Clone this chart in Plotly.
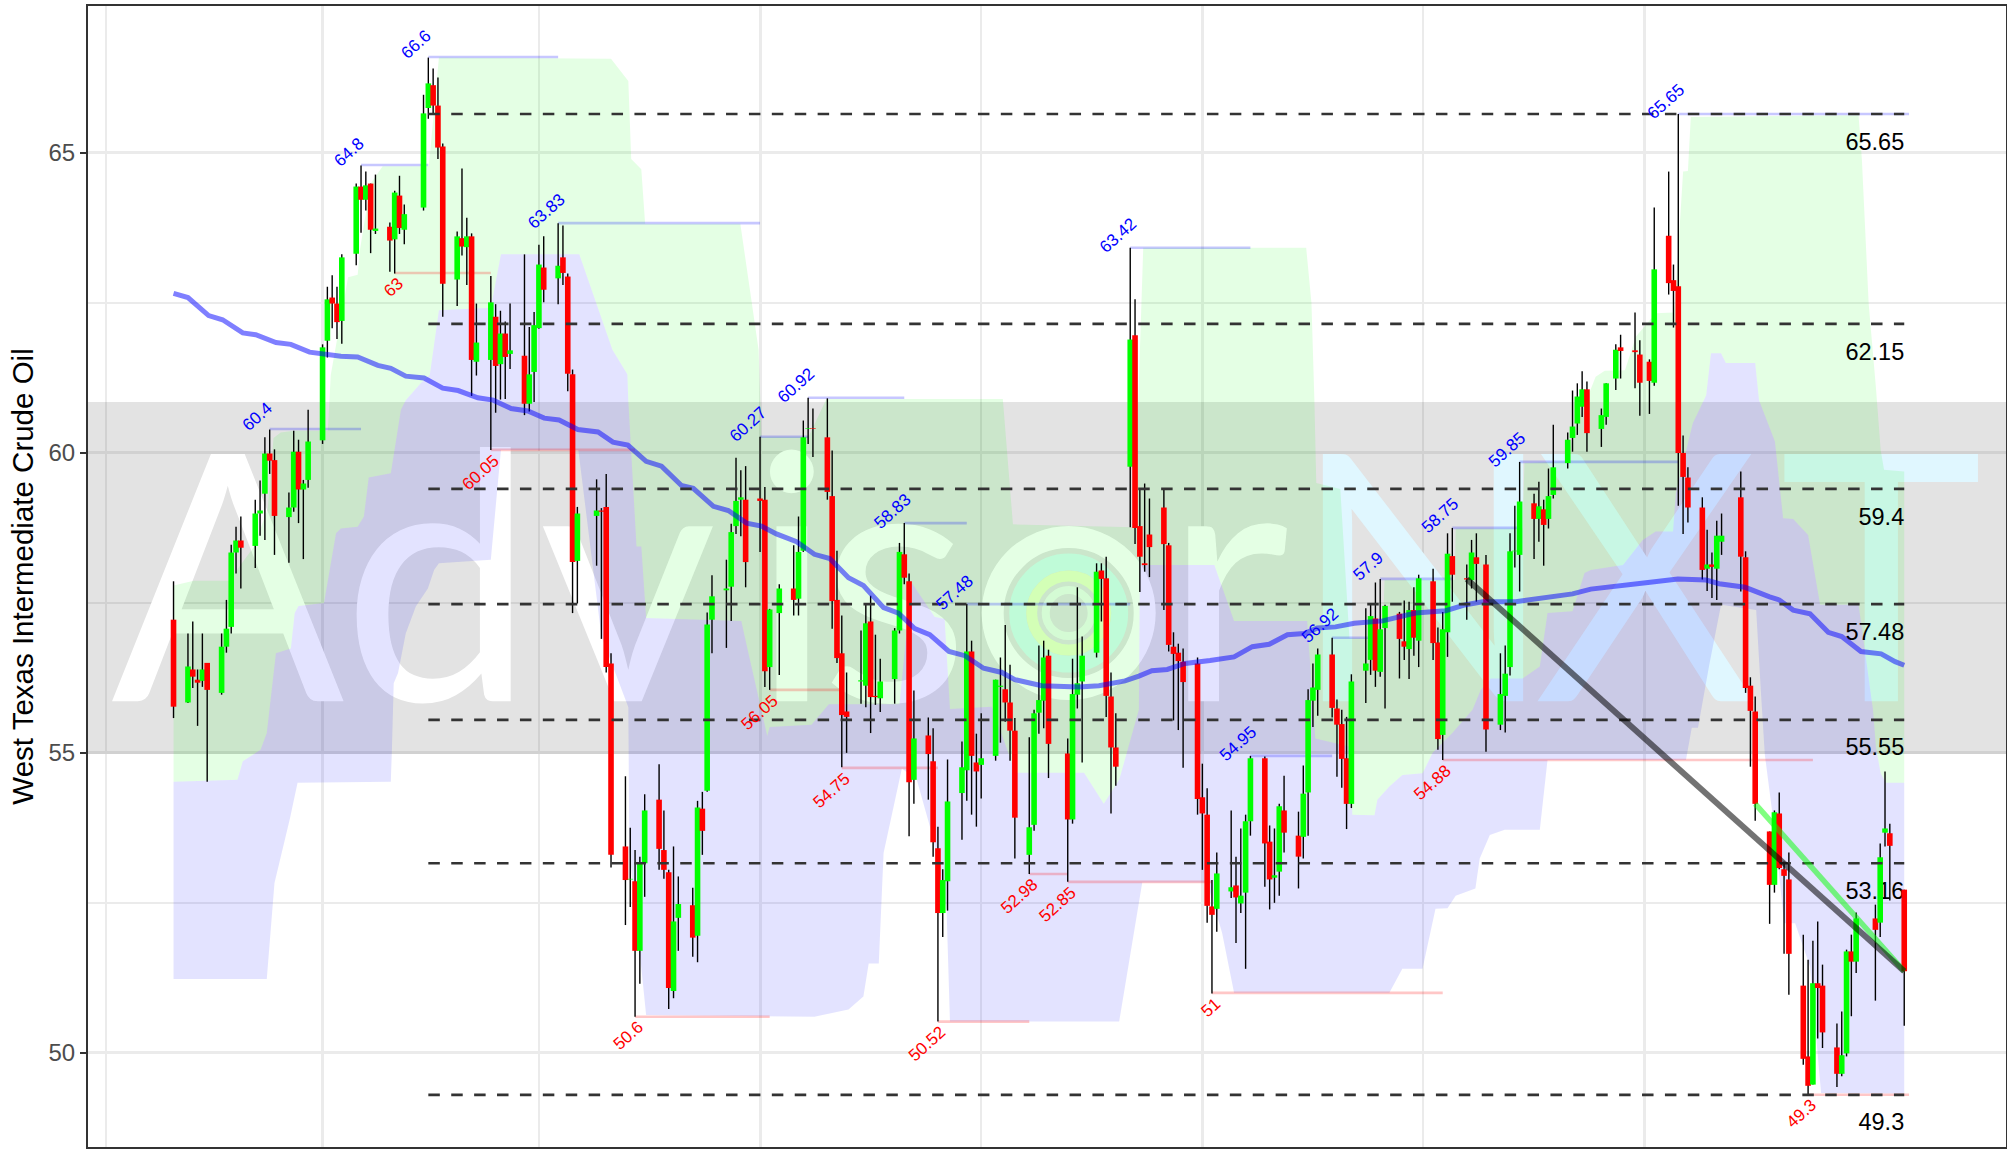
import pandas as pd
import plotly.graph_objects as go

# ---------- daily OHLC (2019-03-01 .. 2020-02-24) ----------
closed_days = ["2019-04-19", "2019-05-27", "2019-07-04", "2019-09-02", "2019-11-28",
               "2019-12-25", "2020-01-01", "2020-01-20", "2020-02-17"]
trade_days = pd.bdate_range("2019-03-01", "2020-02-24").difference(pd.to_datetime(closed_days))

open_px = [
 57.22,55.84,56.39,56.22,56.2,56.5,56.0,56.77,57.1,58.34,58.54,58.45,58.99,59.32,59.99,59.88,58.93,59.09,60.02,59.39,59.55,
 60.21,61.87,62.59,62.49,62.2,63.32,64.44,64.22,64.49,63.70,63.77,63.56,64.29,63.72,64.09,65.75,66.13,65.79,65.11,62.89,63.58,
 63.43,63.61,61.52,61.55,62.27,61.48,61.99,61.65,61.62,60.82,61.35,62.08,63.09,62.91,63.26,62.94,61.31,58.2,58.95,59.04,59.1,56.49,
 53.44,52.89,52.86,51.7,53.16,54.22,53.38,53.01,51.03,52.25,52.46,51.95,54.07,54.37,57.22,57.71,57.77,58.78,59.22,59.22,
 59.24,59.22,56.43,57.33,57.74,57.57,58.37,60.4,60.41,60.26,59.28,57.55,56.66,55.69,56.19,56.12,57.19,55.95,55.91,56.23,57.04,58.31,
 57.86,54.55,55.29,54.86,53.41,52.33,52.86,54.33,54.71,56.69,54.84,54.8,54.95,56.1,56.06,55.84,55.37,53.3,53.8,55.67,55.87,56.62,
 54.99,53.89,55.97,56.19,56.67,58.04,57.91,55.94,55.09,59.77,61.96,58.78,58.16,58.64,59.09,58.46,56.77,56.67,56.52,56.49,
 54.26,53.97,52.44,52.4,52.69,52.79,52.49,52.67,53.86,54.91,53.52,52.92,53.02,54.04,53.62,53.6,54.34,55.87,56.05,56.64,55.74,55.48,54.91,
 54.15,56.37,56.55,57.24,56.35,57.08,57.32,56.86,56.73,57.38,56.87,57.86,56.84,55.3,57.01,58.28,57.91,57.88,58.26,58.14,
 55.47,55.95,56.43,58.36,58.3,59.16,58.9,59.06,58.9,59.3,59.83,60.25,60.49,60.77,61.06,60.4,60.6,61.24,61.76,61.71,61.64,
 61.52,61.17,63.62,62.88,62.78,60.0,59.59,59.09,58.07,58.14,58.07,58.52,59.26,58.26,56.12,55.69,53.69,52.8,53.99,53.06,52.89,
 51.12,49.94,49.47,51.16,51.12,50.09,49.65,49.99,51.69,51.52,52.24,52.17,53.67,53.66,52.72]
high_px = [
 57.86,56.99,57.19,56.39,56.99,56.5,56.99,57.55,58.47,58.77,58.94,59.22,59.54,60.26,60.39,60.06,59.34,60.37,60.22,59.55,60.72,
 61.81,62.77,62.96,62.77,63.31,64.49,64.79,64.69,64.49,64.64,63.84,64.37,64.62,64.14,65.97,66.59,66.41,66.26,65.16,63.69,64.74,
 63.92,63.66,62.49,62.95,62.48,62.37,62.19,62.49,63.31,62.1,62.35,63.47,63.61,63.83,63.79,62.99,61.39,59.1,59.56,59.08,59.65,56.66,
 54.61,53.75,53.38,53.27,54.31,54.81,54.04,53.05,53.44,52.94,52.75,54.2,54.35,57.34,57.96,58.22,58.82,59.92,59.71,59.78,
 60.27,59.43,57.4,57.81,58.46,58.94,60.54,60.92,60.74,60.91,60.04,58.37,57.29,56.34,57.04,57.49,57.62,56.97,56.57,57.08,58.5,58.83,
 57.99,56.04,55.59,55.41,53.77,53.06,54.89,55.19,57.48,56.87,55.32,55.66,56.22,56.59,57.13,56.47,55.58,55.26,55.72,56.79,56.87,56.72,
 55.24,56.57,57.76,56.94,58.16,58.16,58.27,56.34,55.66,63.42,62.56,59.4,59.49,59.24,59.4,58.5,57.01,56.82,56.74,56.59,
 54.82,54.41,52.88,53.34,54.04,53.27,53.74,53.97,54.95,54.94,53.79,53.74,54.15,54.62,54.02,54.79,56.06,56.49,56.74,56.92,55.89,55.72,55.6,
 56.31,57.41,57.49,57.84,57.9,57.47,57.35,57.54,57.52,57.76,57.97,58.07,57.09,57.35,58.66,58.75,58.14,58.55,58.66,58.3,
 56.66,56.79,58.66,59.12,59.85,59.32,59.52,59.22,59.74,60.47,60.34,61.04,61.16,61.36,61.19,60.74,61.16,61.81,61.97,62.34,61.88,
 61.56,64.09,64.69,63.14,65.65,60.29,59.76,59.26,58.72,58.34,58.87,58.99,59.69,58.36,56.26,55.94,53.69,54.04,54.34,53.19,53.34,
 51.97,51.55,51.87,52.19,51.47,50.49,50.69,51.72,51.97,52.34,52.47,53.49,54.69,53.82,52.72]
low_px = [
 55.58,55.83,56.08,55.45,56.1,54.52,55.97,56.67,56.99,57.99,57.74,58.08,58.62,58.55,59.65,58.3,58.17,59.02,58.83,58.23,59.42,
 60.15,61.59,62.08,61.9,61.82,63.13,63.67,64.04,63.33,63.65,63.02,62.99,63.65,63.48,64.04,65.57,65.64,64.9,62.27,62.45,63.29,
 62.8,60.95,61.29,60.05,60.67,60.89,60.9,61.4,60.63,60.69,60.85,62.07,62.51,62.48,62.8,61.03,57.33,57.49,58.12,56.9,56.34,53.09,
 52.13,52.43,50.6,51.15,52.6,53.05,52.9,50.73,50.91,51.7,51.6,51.51,53.3,54.35,56.66,56.75,57.2,58.65,58.61,57.76,
 58.35,56.1,56.05,56.3,57.29,57.29,58.35,60.15,59.93,59.22,57.07,56.5,54.76,55.0,55.82,55.76,55.33,55.8,55.68,55.82,56.99,57.81,
 53.61,54.15,54.22,53.27,50.52,51.93,52.37,53.55,54.2,53.97,53.77,54.24,54.87,55.17,55.52,54.87,53.24,52.98,53.7,55.32,55.41,54.58,
 52.85,53.82,55.74,54.84,56.59,57.19,55.6,53.99,54.45,58.76,58.48,57.68,58.02,57.93,57.38,56.69,55.54,55.38,54.75,53.97,
 53.05,52.17,50.99,52.02,52.58,51.83,52.33,51.4,53.62,52.77,52.39,52.5,52.62,53.34,52.74,53.24,53.62,55.43,55.62,55.59,54.6,54.42,53.73,
 54.08,55.83,56.3,56.1,56.27,55.74,56.24,56.55,56.23,56.62,56.43,56.55,55.05,54.88,56.6,57.52,57.22,57.74,57.52,55.02,
 55.38,55.34,56.29,58.09,57.69,58.23,58.52,58.12,58.74,59.24,59.74,60.02,60.3,60.6,60.02,60.1,60.47,61.05,61.24,61.08,60.62,
 60.65,61.12,62.64,62.09,59.12,58.65,58.84,57.89,57.7,57.58,57.55,58.3,57.69,56.0,54.77,53.87,52.15,52.67,53.06,51.65,50.97,
 49.8,49.3,49.47,50.24,50.08,49.43,49.61,49.94,50.61,51.33,50.87,51.93,53.44,52.54,50.45]
close_px = [
 55.77,56.44,56.27,56.17,56.39,56.05,56.77,57.07,58.34,58.54,58.42,58.99,59.04,59.99,59.87,58.95,59.09,60.02,59.39,59.49,60.19,
 61.76,62.56,62.49,62.18,63.26,64.44,64.22,64.46,63.72,63.74,63.54,64.34,63.75,63.98,65.66,66.16,65.79,65.09,62.82,63.61,63.44,
 63.61,61.55,61.84,62.51,61.45,61.99,61.6,61.71,60.82,61.31,62.13,63.14,62.72,63.12,63.0,61.32,58.18,58.99,59.04,59.02,56.43,53.3,
 52.88,52.9,51.7,53.16,54.04,53.4,53.05,51.08,52.19,52.48,51.92,54.09,53.7,57.14,57.61,57.74,58.68,59.2,59.26,58.18,
 59.2,56.36,57.39,57.74,57.55,58.35,60.26,60.41,60.4,59.35,57.53,56.58,55.63,55.6,56.21,57.16,55.93,55.93,56.19,57.04,58.35,57.92,
 54.51,55.24,54.98,53.51,52.33,52.88,54.19,54.76,56.69,54.95,54.69,54.91,56.22,56.12,55.84,55.37,53.92,53.76,55.66,55.88,56.59,55.15,
 53.89,55.98,56.16,56.62,58.02,57.9,55.95,55.09,54.77,61.89,58.75,58.27,58.13,58.43,58.48,56.8,56.65,56.53,56.18,54.23,
 53.99,52.45,52.3,52.99,52.76,52.59,52.62,53.86,54.91,53.49,52.89,52.96,54.11,53.67,53.27,54.32,55.88,56.09,56.64,55.75,55.47,54.9,54.15,
 56.19,56.49,57.28,56.37,57.06,57.45,56.9,56.77,57.38,56.92,57.91,56.83,55.23,57.06,58.32,57.97,57.89,58.34,58.15,55.39,
 55.98,56.32,58.36,58.37,59.19,58.9,59.11,58.8,59.28,59.76,60.22,60.44,60.94,61.06,60.33,60.63,61.16,61.72,61.7,61.68,61.17,
 61.2,63.06,62.83,62.7,60.0,59.6,59.09,58.05,58.14,58.1,58.62,58.62,58.27,56.08,55.7,54.15,52.8,54.01,53.08,52.95,51.65,
 49.9,49.45,51.16,51.08,50.34,49.65,49.96,51.69,51.52,52.24,52.05,53.26,53.74,53.45,51.36]

# ---------- channel edges and moving average (days since 2019-03-01, price) ----------
upper_day = [0,4.2,11.5,16.7,19.6,20.8,22.3,25,32.1,32.7,36.3,38.3,38.8,41,43.5,53.1,55.2,91,94.6,95.2,97.3,98.1,117.9,121.7,122.3,132.1,135.8,172.5,174.6,199.8,201.3,201.7,235.6,236.7,237.3,237.7,242.7,244.6,251.5,251.9,266.5,266.7,280.6,281,289.6,292,295.8,297.7,301.9,304.2,308.3,311.9,312.3,314,315,315.6,350.5,351.2,352.6,354.1,355.1,355.8,360]
upper_val = [57.79,57.87,57.87,58.43,59.07,60.25,60.34,60.37,60.37,61.3,62.93,62.97,63.4,64.49,64.78,64.78,66.59,66.57,66.2,64.9,64.73,63.82,63.82,61.72,60.27,60.27,60.9,60.9,58.81,58.76,62.43,63.42,63.42,62.5,60.9,59.5,59.4,56.91,56.91,57.88,57.88,58.74,58.74,59.83,59.86,60.49,61.27,61.37,61.38,61.94,62.33,62.34,62.5,64.69,64.7,65.6,65.63,64.88,62.49,61.1,60.05,59.72,59.69]
mid_day = [0,13.3,14.4,18.1,19.4,21.3,24.4,25.2,26,31.3,33.8,34.8,38.3,39.6,40.6,45.2,47.3,48.3,51.5,53.3,55.2,66,68.1,84.4,91.3,94.4,94.6,96.3,97.3,98.3,118.1,119.2,123.5,124,132.7,136.3,151,153.5,158.3,160.4,161.5,170.2,174.4,175,189.4,193.5,196.7,200.8,201,216.5,220.6,235.8,237.5,244.8,245.2,249.8,250.4,252.9,255.6,259.8,261.9,266,270.2,271.9,274,280.6,284.2,285.8,291,293.5,294.8,301.5,305.6,308.3,311.9,312.5,316,318.8,319.8,321.9,322.9,329,329.8,333.1,334.8,336.9,340,342.5,350.5,352,353.5,354.1,355.1,356.2,360]
mid_val = [54.52,54.55,54.86,55.05,55.33,56.66,56.74,57.33,57.45,57.5,58.66,58.74,58.77,58.94,59.59,59.66,60.72,60.88,61.17,61.3,62.38,62.42,63.31,63.31,61.72,61.31,60.86,58.44,58.44,57.25,57.2,56.8,55.28,55.43,55.47,55.81,55.81,57.84,57.27,57.23,55.73,55.77,54.83,54.67,54.67,54.15,54.55,55.72,58.13,58.13,57.2,57.2,55.24,55.1,53.97,53.96,54.22,54.44,54.63,54.66,55.0,55.33,55.72,56.05,56.24,56.24,56.44,57.33,57.36,58.0,58.05,58.13,58.55,58.69,58.69,59.33,60.49,60.96,61.66,61.66,61.5,61.5,60.88,60.19,58.91,58.9,58.63,57.47,57.47,56.6,55.72,55.1,54.66,54.5,54.5]
lower_day = [0,19.4,21,24.2,25.8,45.2,45.4,45.8,46.7,48.3,50.4,52.9,54.2,55.2,66,68.1,84.2,89,94.6,94.8,98.3,133.3,140.4,143.5,144.6,146.7,147.7,151.5,154.6,158.1,160.8,161.5,196.7,201.5,215,218.1,220.6,252.9,255.6,259.8,262.5,265,266.7,270.8,271.7,273.8,276.9,284.2,285.8,305.6,314.6,315.8,317.1,319.4,321.9,329.2,330.2,331,333.1,335,337.3,340.4,342.7,360]
lower_val = [51.23,51.23,52.83,53.9,54.5,54.52,54.99,56.16,56.33,56.99,57.44,57.74,58.05,58.16,58.22,60.05,60.05,56.95,55.76,53.38,50.63,50.6,50.72,50.94,51.49,51.49,53.33,54.74,54.55,53.55,52.38,50.52,50.52,52.84,52.84,52.0,51.0,51.0,51.4,51.4,52.4,52.41,52.62,52.74,53.24,53.63,53.72,53.72,54.88,54.88,54.88,55.42,55.42,56.45,57.47,57.38,56.0,54.97,53.66,52.16,52.16,51.44,49.33,49.32]
ma_day = [0,3,7.3,10.2,14.4,17.1,21.3,24.4,28.3,34.8,38.3,42.5,45.2,48.3,52.1,56,59.2,63.3,66.5,70.2,73.7,77.1,80.2,84.1,88.3,91.4,94.5,98.3,101.5,105.6,108.1,112.3,115.4,119.2,122.3,125.4,129.6,133.3,136.5,140.4,143.5,147.7,150.8,154.2,157.3,161.3,164.6,168.5,172.3,175,180.6,188.3,192.5,197.9,200.8,203.5,206.7,210.4,215.6,220.6,224.4,227.9,231.7,235.2,237.9,241.7,245.6,251.5,258.3,264.6,268.8,272.3,279.2,284.8,291,294.8,300,306.7,312.9,318.8,321.5,326.9,332,334,336.9,340.4,344.2,347,351,355.2,358.1,360]
ma_val = [62.66,62.59,62.29,62.22,62.0,61.97,61.84,61.81,61.68,61.61,61.6,61.46,61.41,61.28,61.25,61.08,61.04,60.92,60.88,60.74,60.7,60.58,60.55,60.39,60.35,60.18,60.13,59.86,59.78,59.46,59.41,59.11,59.04,58.83,58.78,58.65,58.52,58.31,58.24,57.92,57.79,57.42,57.33,57.07,56.97,56.69,56.62,56.41,56.34,56.22,56.12,56.1,56.12,56.2,56.28,56.37,56.39,56.49,56.54,56.6,56.77,56.81,56.97,56.99,57.08,57.1,57.16,57.2,57.33,57.37,57.47,57.52,57.52,57.58,57.65,57.73,57.77,57.84,57.9,57.88,57.82,57.76,57.6,57.55,57.38,57.32,57.01,56.94,56.69,56.65,56.52,56.46]

# ---------- swing highs / lows ----------
high_labels = ["60.4","64.8","66.6","63.83","60.27","60.92","58.83","57.48","63.42","54.95","56.92","57.9","58.75","59.85","65.65"]
high_vals = [60.4,64.8,66.6,63.83,60.27,60.92,58.83,57.48,63.42,54.95,56.92,57.9,58.75,59.85,65.65]
high_from = ["2019-03-21","2019-04-09","2019-04-23","2019-05-20","2019-07-01","2019-07-11","2019-07-31","2019-08-13","2019-09-16","2019-10-11","2019-10-28","2019-11-07","2019-11-22","2019-12-06","2020-01-08"]
high_to = ["2019-04-09","2019-04-23","2019-05-20","2019-07-01","2019-07-11","2019-07-31","2019-08-13","2019-09-16","2019-10-11","2019-10-28","2019-11-07","2019-11-22","2019-12-06","2020-01-08","2020-02-25"]
low_labels = ["63","60.05","50.6","56.05","54.75","50.52","52.98","52.85","51","54.88","49.3"]
low_vals = [63,60.05,50.6,56.05,54.75,50.52,52.98,52.85,51,54.88,49.3]
low_from = ["2019-04-16","2019-05-06","2019-06-05","2019-07-03","2019-07-18","2019-08-07","2019-08-26","2019-09-03","2019-10-03","2019-11-20","2020-02-04"]
low_to = ["2019-05-06","2019-06-05","2019-07-03","2019-07-18","2019-08-07","2019-08-26","2019-09-03","2019-10-03","2019-11-20","2020-02-05","2020-02-25"]

# ---------- levels and trend lines ----------
level_vals = [65.65,62.15,59.4,57.48,55.55,53.16,49.3]
level_text = ["65.65","62.15","59.4","57.48","55.55","53.16","49.3"]
level_from, level_to = "2019-04-23", "2020-02-24"
black_trend_x = ["2019-11-25","2020-02-24"]
black_trend_y = [57.9,51.36]
green_trend_x = ["2020-01-24","2020-02-24"]
green_trend_y = [54.15,51.36]

# ---------- axes ----------
major_dates = ["2019-04-01","2019-07-01","2019-10-01","2020-01-01"]
minor_dates = ["2019-02-15","2019-05-16","2019-08-16","2019-11-16"]
y_major = [50,55,60,65]
y_minor = [52.5,57.5,62.5]
band_low, band_high = 54.98, 60.85
x_start, x_end = "2019-02-11 05:00", "2020-03-16 04:00"

wm_letters = ["A","d","v","i","s","r","N","X","T"]
wm_days = [-13,35,76,120,134.5,206,232.5,283,334]
wm_colors = ["#ffffff"]*6 + ["#e0f7ff"]*3
wm_level = 57.3
logo_day, logo_val = 186.2, 57.33

BASE = pd.Timestamp("2019-03-01")
def to_dates(days):
    return [(BASE + pd.Timedelta(days=d)).round("s") for d in days]

fig = go.Figure()

# watermark sits under the translucent channels
for ch, d, col in zip(wm_letters, wm_days, wm_colors):
    fig.add_trace(go.Scatter(x=to_dates([d]), y=[wm_level], mode="text", text=[ch], textposition="middle right",
                             textfont=dict(family="Lato", size=345, color=col), hoverinfo="skip", showlegend=False))

# channels
def band(xa, ya, xb, yb, col):
    xs = to_dates(xa) + to_dates(xb)[::-1]
    ys = list(ya) + list(yb)[::-1]
    fig.add_trace(go.Scatter(x=xs, y=ys, mode="none", fill="toself", fillcolor=col, hoverinfo="skip", showlegend=False))
band(upper_day, upper_val, mid_day, mid_val, "rgba(0,255,0,0.105)")
band(mid_day, mid_val, lower_day, lower_val, "rgba(0,0,255,0.11)")

# level captions, under the candles
fig.add_trace(go.Scatter(x=[level_to]*len(level_vals), y=[v-0.3 for v in level_vals], mode="text", text=level_text,
                         textposition="bottom left", textfont=dict(family="Liberation Sans", size=23.5, color="black"),
                         hoverinfo="skip", showlegend=False))

# swing lines
def seg(xf, xt, vals):
    xs, ys = [], []
    for a, b, v in zip(xf, xt, vals):
        xs += [a, b, None]; ys += [v, v, None]
    return xs, ys
sx, sy = seg(high_from, high_to, high_vals)
fig.add_trace(go.Scatter(x=sx, y=sy, mode="lines", line=dict(color="rgba(0,0,255,0.22)", width=2.6), hoverinfo="skip", showlegend=False))
sx, sy = seg(low_from, low_to, low_vals)
fig.add_trace(go.Scatter(x=sx, y=sy, mode="lines", line=dict(color="rgba(255,0,0,0.22)", width=2.6), hoverinfo="skip", showlegend=False))

# wicks
wx, wy = [], []
for d, h, l in zip(trade_days, high_px, low_px):
    wx += [d, d, None]; wy += [l, h, None]
fig.add_trace(go.Scatter(x=wx, y=wy, mode="lines", line=dict(color="black", width=1.4), hoverinfo="skip", showlegend=False))

# bodies: consecutive same-direction days share a trace so later days stay on top
runs = []
for d, o, c in zip(trade_days, open_px, close_px):
    col = "#00ff00" if c >= o else "#ff0000"
    if not runs or runs[-1][0] != col:
        runs.append((col, [], []))
    runs[-1][1].extend([d, d, None])
    runs[-1][2].extend([o, c, None])
for col, xs, ys in runs:
    fig.add_trace(go.Scatter(x=xs, y=ys, mode="lines", line=dict(color=col, width=5.6), hoverinfo="skip", showlegend=False))

# moving average, levels, trends
fig.add_trace(go.Scatter(x=to_dates(ma_day), y=ma_val, mode="lines", line=dict(color="rgba(0,0,255,0.5)", width=5, shape="linear"),
                         hoverinfo="skip", showlegend=False))
sx, sy = seg([level_from]*len(level_vals), [level_to]*len(level_vals), level_vals)
fig.add_trace(go.Scatter(x=sx, y=sy, mode="lines", line=dict(color="#333333", width=2.7, dash="11.5px,11.4px"), hoverinfo="skip", showlegend=False))
fig.add_trace(go.Scatter(x=green_trend_x, y=green_trend_y, mode="lines", line=dict(color="rgba(0,255,0,0.5)", width=5.5), hoverinfo="skip", showlegend=False))
fig.add_trace(go.Scatter(x=black_trend_x, y=black_trend_y, mode="lines", line=dict(color="rgba(0,0,0,0.55)", width=6), hoverinfo="skip", showlegend=False))

# swing labels
ann = []
for t, v, d in zip(high_labels, high_vals, high_from):
    ann.append(dict(x=d, y=v, xref="x", yref="y", text=t, showarrow=False, textangle=-42, xanchor="center", yanchor="middle",
                    xshift=-12, yshift=12, font=dict(family="Liberation Sans", size=17, color="#0000ff")))
for t, v, d in zip(low_labels, low_vals, low_from):
    ann.append(dict(x=d, y=v, xref="x", yref="y", text=t, showarrow=False, textangle=-42, xanchor="right", yanchor="top",
                    xshift=15, yshift=2, font=dict(family="Liberation Sans", size=17, color="#ff0000")))

# grey band plus the ring logo of the watermark
shapes = [dict(type="rect", xref="x", x0=x_start, x1=x_end, yref="y", y0=band_low, y1=band_high, layer="between",
               fillcolor="rgba(0,0,0,0.11)", line=dict(width=0))]
logo_x = (BASE + pd.Timedelta(days=logo_day)).round("s")
for r, w, col in [(76, 22, "#ffffff"), (51, 17, "#d6fbf2"), (37, 11, "#ecffcc"), (23, 8, "#eefbee")]:
    shapes.append(dict(type="circle", xsizemode="pixel", ysizemode="pixel", xanchor=logo_x, yanchor=logo_val,
                       x0=-r, x1=r, y0=-r, y1=r, xref="x", yref="y", layer="between",
                       fillcolor="rgba(0,0,0,0)", line=dict(color=col, width=w)))

fig.update_layout(
    width=2007, height=1149, autosize=False,
    margin=dict(l=88, r=1, t=6, b=2, autoexpand=False),
    paper_bgcolor="white", plot_bgcolor="white",
    showlegend=False, shapes=shapes, annotations=ann,
    hovermode=False,
    xaxis=dict(type="date", range=[x_start, x_end], tickmode="array", tickvals=major_dates, automargin=False,
               showticklabels=False, ticks="outside", ticklen=6, tickwidth=2, tickcolor="#333333",
               showgrid=True, gridcolor="#ebebeb", gridwidth=3, zeroline=False,
               showline=True, mirror=True, linecolor="#333333", linewidth=2,
               minor=dict(tickmode="array", tickvals=minor_dates, showgrid=True, gridcolor="#ebebeb", gridwidth=1.5, ticks="")),
    yaxis=dict(range=[48.43, 67.45], tickmode="array", tickvals=y_major, ticktext=[str(v) for v in y_major], automargin=False,
               tickfont=dict(family="Liberation Sans", size=24, color="#4d4d4d"),
               ticks="outside", ticklen=6, tickwidth=2, tickcolor="#333333",
               showgrid=True, gridcolor="#ebebeb", gridwidth=3, zeroline=False,
               showline=True, mirror=True, linecolor="#333333", linewidth=2,
               minor=dict(tickmode="array", tickvals=y_minor, showgrid=True, gridcolor="#ebebeb", gridwidth=1.5, ticks=""),
               title=dict(text="West Texas Intermediate Crude Oil", font=dict(family="Liberation Sans", size=29.5, color="black"), standoff=6)),
)

fig.write_html("out.html", config=dict(displayModeBar=False),
               post_script="document.body.style.margin='0';document.body.style.overflow='hidden';")
